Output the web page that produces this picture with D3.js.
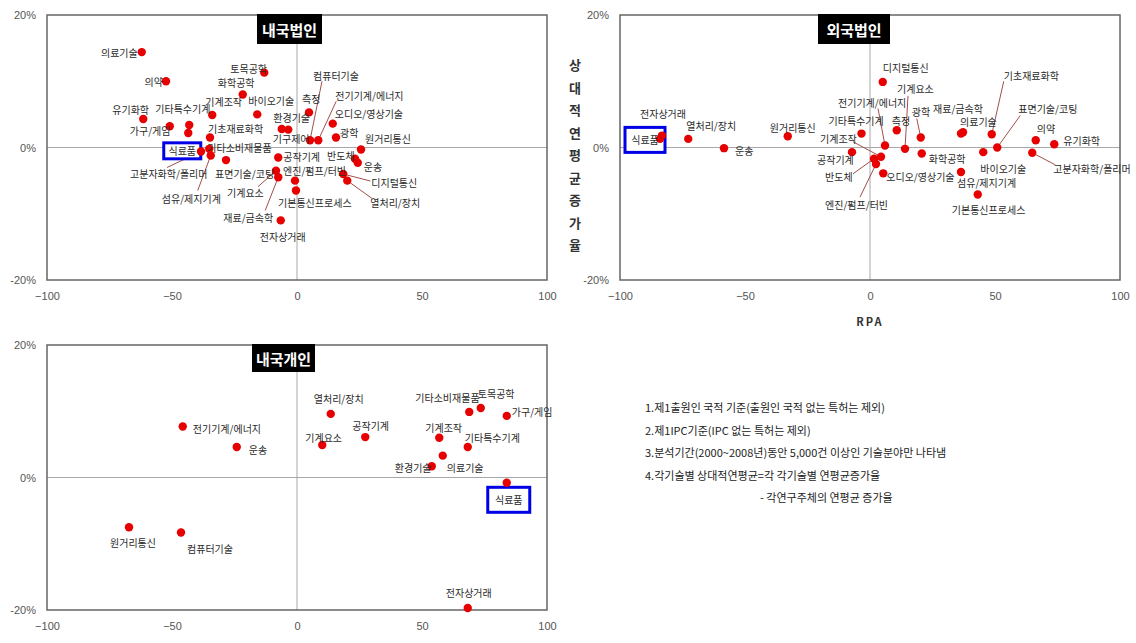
<!DOCTYPE html>
<html>
<head>
<meta charset="utf-8">
<script src="https://cdn.jsdelivr.net/npm/d3@7"></script>
<style>
  body { margin: 0; background: #fff; }
  svg { display: block; }
  text { font-family: "Noto Sans CJK KR", "Noto Sans", sans-serif; }
</style>
</head>
<body>
<svg id="chart" width="1136" height="643"></svg>
<script>
// ---- Data: RPA (x) and relative average annual growth in % (y) per technology field ----
const xTicks = [-100, -50, 0, 50, 100];
const yTicks = [20, 0, -20];
const panelTitles = ["내국법인", "외국법인", "내국개인"];
const highlightName = "식료품";

// 내국법인
const corpNames = ["의료기술","의약","토목공학","화학공학","기계조작","바이오기술","유기화학","가구/게임","기타특수기계","기타소비재물품","기초재료화학","식료품","고분자화학/폴리머","섬유/제지기계","표면기술/코팅","기계요소","재료/금속학","전자상거래","기구제어","환경기술","측정","컴퓨터기술","전기기계/에너지","오디오/영상기술","광학","원거리통신","반도체","운송","디지털통신","열처리/장치","공작기계","엔진/펌프/터빈","기본통신프로세스"];
const corpRpa = [-62.1,-52.4,-13.1,-21.7,-33.9,-15.9,-61.5,-50.9,-43.1,-43.5,-34.8,-35.1,-38.4,-34.5,-28.4,-8.4,-7.5,-6.5,-6.1,-3.5,4.8,5.2,8.5,14.3,15.6,25.6,23.2,24.3,18.5,20.1,-7.5,-0.8,-0.4];
const corpGrowth = [14.4,10.0,11.3,8.0,4.9,5.0,4.3,3.2,3.4,2.2,1.5,-0.2,-0.6,-1.2,-1.9,-3.5,-4.5,-11.0,2.8,2.7,5.3,1.1,1.1,3.6,1.5,-0.3,-1.7,-2.3,-4.0,-5.0,-1.5,-5.0,-6.5];

// 외국법인
const foreignNames = ["식료품","전자상거래","열처리/장치","운송","원거리통신","기타특수기계","디지털통신","측정","광학","전기기계/에너지","기계요소","기계조작","화학공학","재료/금속학","의료기술","기초재료화학","의약","유기화학","고분자화학/폴리머","표면기술/코팅","바이오기술","섬유/제지기계","기본통신프로세스","오디오/영상기술","반도체","공작기계","엔진/펌프/터빈"];
const foreignRpa = [-84,-83.2,-72.7,-58.4,-32.9,-3.4,5.1,10.7,20.3,6.0,14.0,4.4,20.7,36.4,37.2,48.7,66.3,73.7,64.9,50.9,45.3,36.4,43.1,5.3,1.6,-7.2,2.4];
const foreignGrowth = [1.3,1.8,1.3,-0.1,1.7,2.1,9.9,2.6,1.5,0.3,-0.2,-1.4,-0.9,2.1,2.3,2.0,1.1,0.5,-0.8,0.0,-0.7,-3.7,-7.1,-3.9,-1.7,-0.7,-2.5];

// 내국개인
const personNames = ["전기기계/에너지","운송","원거리통신","컴퓨터기술","열처리/장치","기계요소","공작기계","기타소비재물품","토목공학","가구/게임","기계조작","기타특수기계","의료기술","환경기술","식료품","전자상거래"];
const personRpa = [-45.7,-24.1,-67.2,-46.4,13.5,10.1,27.3,68.9,73.5,83.9,56.9,68.3,58.3,53.9,83.9,68.3];
const personGrowth = [7.7,4.6,-7.5,-8.3,9.6,4.9,6.1,9.9,10.5,9.3,6.0,4.6,3.3,1.7,-0.8,-19.7];

const notes = [
  "1.제1출원인 국적 기준(출원인 국적 없는 특허는 제외)",
  "2.제1IPC기준(IPC 없는 특허는 제외)",
  "3.분석기간(2000~2008년)동안 5,000건 이상인 기술분야만 나타냄",
  "4.각기술별 상대적연평균=각 각기술별 연평균증가율",
  "- 각연구주체의 연평균 증가율"
];
const yAxisTitle = "상대적연평균증가율";
const xAxisTitle = "RPA";

// ---- Label placement: [dx, dy, anchor, leaderDx, leaderDy] relative to the dot ----
const corpLabels = {
  "의료기술": [-4,0,"end"], "의약": [-3,0,"end"], "토목공학": [-34,-4], "화학공학": [-25,-12],
  "기계조작": [-7,-14], "바이오기술": [-9,-14], "유기화학": [-31,-10], "가구/게임": [-40,4],
  "기타특수기계": [-34,-16], "기타소비재물품": [19,15], "기초재료화학": [-2,-9], "식료품": [-27,2,"middle"],
  "고분자화학/폴리머": [-71,22,"start",-34,16], "섬유/제지기계": [-49,43,"start",-13,35],
  "표면기술/코팅": [-11,13], "기계요소": [-49,22,"start",-18,16], "재료/금속학": [-55,40,"start",-13,33],
  "전자상거래": [2,16,"middle"], "기구제어": [-9,10], "환경기술": [-15,-12], "측정": [-7,-14],
  "컴퓨터기술": [3,-65,"start",12,-59], "전기기계/에너지": [17,-45,"start",18,-39],
  "오디오/영상기술": [2,-10], "광학": [4,-5], "원거리통신": [4,-11], "반도체": [-28,-3], "운송": [6,4],
  "디지털통신": [28,8,"start",27,7], "열처리/장치": [23,22,"start",25,18], "공작기계": [5,-1],
  "엔진/펌프/터빈": [-12,-10], "기본통신프로세스": [-18,12]
};
const foreignLabels = {
  "식료품": [-15,1,"middle"], "전자상거래": [-22,-22], "열처리/장치": [-2,-13], "운송": [11,2],
  "원거리통신": [-18,-9], "기타특수기계": [-33,-13], "디지털통신": [0,-14], "측정": [-5,-10],
  "광학": [-9,-26,"start",-4,-19], "전기기계/에너지": [-47,-43,"start",-7,-37],
  "기계요소": [-8,-60,"start",3,-53], "기계조작": [-61,-18,"start",-28,-15], "화학공학": [7,5],
  "재료/금속학": [-28,-25], "의료기술": [-3,-11], "기초재료화학": [12,-59,"start",12,-53],
  "표면기술/코팅": [21,-39,"start",23,-32], "의약": [1,-12], "유기화학": [9,-4],
  "고분자화학/폴리머": [21,16,"start",23,12], "바이오기술": [-3,16], "섬유/제지기계": [-4,10],
  "기본통신프로세스": [-26,15], "오디오/영상기술": [3,3], "반도체": [-49,18,"start",-21,15],
  "공작기계": [-35,7], "엔진/펌프/터빈": [-51,40,"start",-16,33]
};
const personLabels = {
  "전기기계/에너지": [10,2], "운송": [12,2], "원거리통신": [-19,15], "컴퓨터기술": [6,16],
  "열처리/장치": [-17,-15], "기계요소": [-17,-8], "공작기계": [-13,-12], "기타소비재물품": [-54,-14],
  "토목공학": [-3,-14], "가구/게임": [5,-4], "기계조작": [-14,-10], "기타특수기계": [-3,-10],
  "의료기술": [4,12], "환경기술": [-37,1], "식료품": [2,17,"middle"], "전자상거래": [1,-16,"middle"]
};

const panels = [
  { title: panelTitles[0], names: corpNames, rpa: corpRpa, growth: corpGrowth, labels: corpLabels,
    xr: [47, 547], yr: [280, 15], titleBox: { x: 257, w: 65, h: 30 }, box: { w: 37, h: 16 } },
  { title: panelTitles[1], names: foreignNames, rpa: foreignRpa, growth: foreignGrowth, labels: foreignLabels,
    xr: [620, 1120], yr: [280, 15], titleBox: { x: 818, w: 72, h: 30 }, box: { w: 40, h: 25 } },
  { title: panelTitles[2], names: personNames, rpa: personRpa, growth: personGrowth, labels: personLabels,
    xr: [47, 547], yr: [610, 345], titleBox: { x: 252, w: 63, h: 28 }, box: { w: 42, h: 25 } }
];

const svg = d3.select("#chart");

function drawPanel(p) {
  const g = svg.append("g");
  const x = d3.scaleLinear().domain([-100, 100]).range(p.xr);
  const y = d3.scaleLinear().domain([-20, 20]).range(p.yr);

  // zero reference lines
  g.append("line").attr("x1", x(-100)).attr("x2", x(100)).attr("y1", y(0)).attr("y2", y(0))
    .attr("stroke", "#a8a8a8").attr("stroke-width", 1);
  g.append("line").attr("x1", x(0)).attr("x2", x(0)).attr("y1", y(-20)).attr("y2", y(20))
    .attr("stroke", "#a8a8a8").attr("stroke-width", 1);

  // plot frame
  g.append("rect").attr("x", x(-100)).attr("y", y(20))
    .attr("width", x(100) - x(-100)).attr("height", y(-20) - y(20))
    .attr("fill", "none").attr("stroke", "#666").attr("stroke-width", 1.5);

  // axes
  const xa = g.append("g").attr("transform", `translate(0,${y(-20)})`)
    .call(d3.axisBottom(x).tickValues(xTicks).tickSize(0).tickPadding(12).tickFormat(d3.format("d")));
  const ya = g.append("g").attr("transform", `translate(${x(-100)},0)`)
    .call(d3.axisLeft(y).tickValues(yTicks).tickSize(0).tickPadding(11).tickFormat(d => d + "%"));
  [xa, ya].forEach(a => {
    a.select(".domain").remove();
    a.selectAll("text").attr("fill", "#555").attr("font-size", 11)
      .style("font-family", "'Liberation Sans Narrow','Liberation Sans',sans-serif");
  });

  const pts = p.names.map((n, i) => ({ name: n, rpa: p.rpa[i], g: p.growth[i] }));
  const lay = d => p.labels[d.name] || [6, 0, "start"];

  // leader lines
  g.selectAll(".leader").data(pts.filter(d => lay(d).length > 3)).join("line")
    .attr("x1", d => x(d.rpa)).attr("y1", d => y(d.g))
    .attr("x2", d => x(d.rpa) + lay(d)[3]).attr("y2", d => y(d.g) + lay(d)[4])
    .attr("stroke", "#a0504c").attr("stroke-width", 1);

  // highlight box around the food label
  const hl = pts.find(d => d.name === highlightName);
  if (hl) {
    const [dx, dy] = lay(hl);
    g.append("rect")
      .attr("x", x(hl.rpa) + dx - p.box.w / 2).attr("y", y(hl.g) + dy - p.box.h / 2)
      .attr("width", p.box.w).attr("height", p.box.h)
      .attr("fill", "#fff").attr("stroke", "#0000e6").attr("stroke-width", 3);
  }

  // dots
  g.selectAll(".dot").data(pts).join("circle")
    .attr("cx", d => x(d.rpa)).attr("cy", d => y(d.g)).attr("r", 4.2)
    .attr("fill", "#e60000");

  // labels
  g.selectAll(".lbl").data(pts).join("text")
    .attr("x", d => x(d.rpa) + lay(d)[0]).attr("y", d => y(d.g) + lay(d)[1])
    .attr("text-anchor", d => lay(d)[2] || "start")
    .attr("dominant-baseline", "central")
    .attr("font-size", 10).attr("fill", "#2a2a2a")
    .text(d => d.name);

  // panel title
  const tb = p.titleBox;
  g.append("rect").attr("x", tb.x).attr("y", y(20) - 1).attr("width", tb.w).attr("height", tb.h).attr("fill", "#000");
  g.append("text").attr("x", tb.x + tb.w / 2).attr("y", y(20) - 1 + tb.h / 2)
    .attr("text-anchor", "middle").attr("dominant-baseline", "central")
    .attr("fill", "#fff").attr("font-size", 15).attr("font-weight", "bold")
    .text(p.title);
  return { x, y };
}

const scales = panels.map(drawPanel);

// vertical y-axis title beside the second panel
const yt = svg.append("text").attr("fill", "#333").attr("font-size", 13).attr("font-weight", "bold")
  .attr("text-anchor", "middle");
yAxisTitle.split("").forEach((ch, i) => {
  yt.append("tspan").attr("x", 575).attr("y", 70 + i * 22.5).text(ch);
});

// x-axis title of the second panel
svg.append("text").attr("x", scales[1].x(0)).attr("y", 326)
  .attr("text-anchor", "middle").attr("fill", "#333").attr("font-size", 11).attr("font-weight", "bold")
  .attr("letter-spacing", 2).text(xAxisTitle);

// footnotes
svg.append("g").selectAll("text").data(notes).join("text")
  .attr("x", (d, i) => i === 4 ? 760 : 645)
  .attr("y", (d, i) => 412 + i * 22.5)
  .attr("font-size", 11).attr("fill", "#222")
  .text(d => d);
</script>
</body>
</html>
